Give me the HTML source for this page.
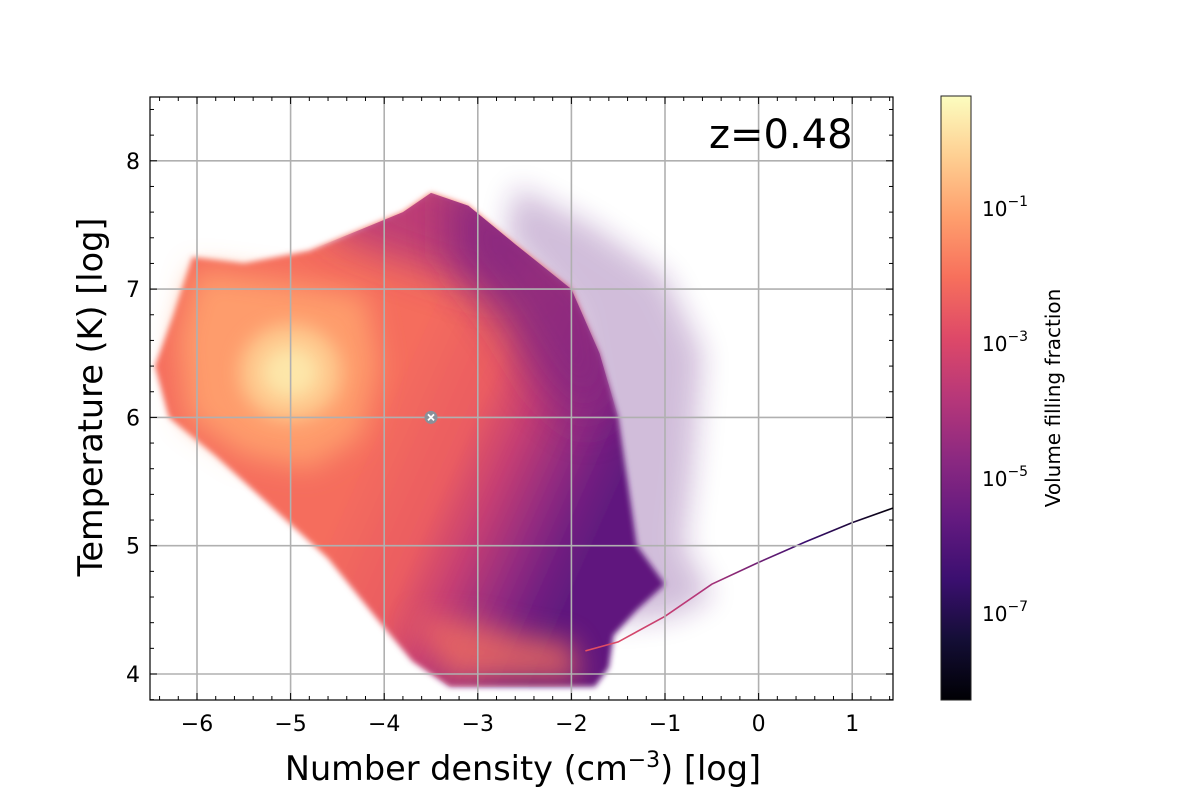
<!DOCTYPE html>
<html><head><meta charset="utf-8">
<style>
html,body{margin:0;padding:0;background:#fff;}
svg{display:block;font-family:"DejaVu Sans","Liberation Sans",sans-serif;}
</style></head>
<body>
<svg id="chart" width="1200" height="800" viewBox="0 0 1200 800">
<defs>
<filter id="blur3" x="-20%" y="-20%" width="140%" height="140%"><feGaussianBlur stdDeviation="3"/></filter>
<filter id="blur8" x="-30%" y="-30%" width="160%" height="160%"><feGaussianBlur stdDeviation="9"/></filter>
<filter id="blur14" x="-40%" y="-40%" width="180%" height="180%"><feGaussianBlur stdDeviation="14"/></filter>
<filter id="blur20" x="-50%" y="-50%" width="200%" height="200%"><feGaussianBlur stdDeviation="20"/></filter>
<clipPath id="plotclip"><rect x="150" y="97" width="743" height="603"/></clipPath>
<clipPath id="bodyclip"><polygon id="bodyclippoly" points=""/></clipPath>
<linearGradient id="cbgrad" x1="0" y1="1" x2="0" y2="0">
<stop offset="0" stop-color="#000004"/><stop offset="0.1" stop-color="#140e36"/><stop offset="0.2" stop-color="#3b0f70"/>
<stop offset="0.3" stop-color="#641a80"/><stop offset="0.4" stop-color="#8c2981"/><stop offset="0.5" stop-color="#b73779"/>
<stop offset="0.6" stop-color="#de4968"/><stop offset="0.7" stop-color="#f7705c"/><stop offset="0.8" stop-color="#fe9f6d"/>
<stop offset="0.9" stop-color="#fecf92"/><stop offset="1" stop-color="#fcfdbf"/>
</linearGradient>
<linearGradient id="tailgrad" x1="0" y1="0" x2="1" y2="0">
<stop offset="0" stop-color="#e8505f"/><stop offset="0.35" stop-color="#b73779"/><stop offset="0.7" stop-color="#3b0f70"/><stop offset="1" stop-color="#000004"/>
</linearGradient>
<linearGradient id="bodygrad" gradientUnits="userSpaceOnUse" x1="377" y1="417" x2="605" y2="519"></linearGradient>
</defs>
<g id="heat" clip-path="url(#plotclip)"></g>
<g id="grid"></g>
<g id="axes"></g>
<rect x="150" y="97" width="743" height="603" fill="none" stroke="#000" stroke-width="1.2"/>
<text x="709" y="148" font-size="40">z=0.48</text>
<text x="523" y="780" font-size="33.5" text-anchor="middle">Number density (cm<tspan dy="-13" font-size="22">−3</tspan><tspan dy="13">) [log]</tspan></text>
<text transform="translate(102,397) rotate(-90)" font-size="33.5" text-anchor="middle">Temperature (K) [log]</text>
<rect x="941" y="96" width="30" height="604" fill="url(#cbgrad)" stroke="#222" stroke-width="1"/>
<g id="cbticks"></g>
<text transform="translate(1060,398) rotate(-90)" font-size="20" text-anchor="middle">Volume filling fraction</text>
</svg>
<script>
// ---- data ----
const xTicks = [-6, -5, -4, -3, -2, -1, 0, 1];
const yTicks = [4, 5, 6, 7, 8];
const cbTicks = [-1, -3, -5, -7];
// body gradient log10 volume fraction values (low-density side -> high-density side)
const bodyValues = [-2.1, -2.5, -3.5, -4.6, -5.3, -5.7];
// overlay layer values: orange, core outer, core inner, bottom band, top cap, upper-right wedge
const layerValues = [-1.2, -0.4, 0.2, -2.0, -3.9, -4.9];
// polygons in (log n, log T)
const bodyOutline = [[-6.05,7.25],[-5.5,7.2],[-4.8,7.3],[-4.3,7.45],[-3.8,7.6],[-3.5,7.75],[-3.1,7.65],[-2.6,7.35],[-2.0,7.0],[-1.7,6.5],[-1.5,6.0],[-1.4,5.5],[-1.3,5.0],[-1.0,4.7],[-1.3,4.5],[-1.55,4.3],[-1.6,4.05],[-1.75,3.9],[-3.3,3.9],[-3.7,4.1],[-4.1,4.45],[-4.6,4.9],[-5.2,5.3],[-5.8,5.7],[-6.3,6.0],[-6.45,6.4],[-6.25,6.8]];
const topCap = [[-4.6,7.7],[-3.5,8.0],[-2.4,7.6],[-2.4,7.0],[-2.9,7.0],[-3.5,7.15],[-4.1,7.3],[-4.6,7.45]];
const upperWedge = [[-3.3,7.9],[-2.4,7.6],[-1.6,7.0],[-1.4,6.3],[-1.8,5.9],[-2.3,6.2],[-2.8,6.8],[-3.3,7.25]];
const layerOrange = [[-6.0,7.15],[-5.0,7.05],[-4.2,6.95],[-4.05,6.4],[-4.25,5.85],[-4.8,5.6],[-5.5,5.7],[-6.1,6.0],[-6.2,6.6]];
const bottomBand = [[-3.7,4.45],[-3.0,4.4],[-2.5,4.3],[-2.0,4.25],[-1.9,3.95],[-3.3,3.95]];
const coreEllipse = [-5.0, 6.35, 0.55, 0.38];
const coreInner = [-5.0, 6.35, 0.3, 0.2];
const sparseRegion = [[-2.6,7.8],[-1.8,7.5],[-1.0,7.1],[-0.6,6.5],[-0.7,5.6],[-0.8,5.0],[-0.5,4.6],[-0.9,4.45],[-1.6,4.4],[-1.7,5.5],[-2.0,6.8],[-2.7,7.4]];
const tailPoints = [[-1.85,4.18],[-1.5,4.25],[-1.0,4.45],[-0.5,4.7],[0.0,4.87],[0.5,5.03],[1.0,5.18],[1.5,5.31]];
const marker = [-3.5, 6.0];
// ---- scales ----
const X = v => 197 + (v + 6) * 93.6;
const Y = t => 674 - (t - 4) * 128.3;
const CB = l => 208 - (l + 1) * 67.5;
const cmapStops = ["#000004","#140e36","#3b0f70","#641a80","#8c2981","#b73779","#de4968","#f7705c","#fe9f6d","#fecf92","#fcfdbf"];
function hex2rgb(h){return [1,3,5].map(i=>parseInt(h.substr(i,2),16));}
function magma(l){
  let t=(l+8.29)/8.93; t=Math.max(0,Math.min(1,t));
  const f=t*10, i=Math.min(9,Math.floor(f)), r=f-i;
  const a=hex2rgb(cmapStops[i]), b=hex2rgb(cmapStops[i+1]);
  return 'rgb('+a.map((v,k)=>Math.round(v+(b[k]-v)*r)).join(',')+')';
}
const NS='http://www.w3.org/2000/svg';
function mk(tag,attrs,parent){const e=document.createElementNS(NS,tag);for(const k in attrs)e.setAttribute(k,attrs[k]);parent.appendChild(e);return e;}
const pts = arr => arr.map(p=>X(p[0]).toFixed(1)+','+Y(p[1]).toFixed(1)).join(' ');
const bg=document.getElementById('bodygrad');
const offs=[0,0.35,0.55,0.75,0.88,1];
bodyValues.forEach((v,i)=>mk('stop',{offset:offs[i],'stop-color':magma(v)},bg));
document.getElementById('bodyclippoly').setAttribute('points',pts(bodyOutline));
const heat=document.getElementById('heat');
let sp=mk('polygon',{points:pts(sparseRegion),fill:magma(-5.8),opacity:0.28,filter:'url(#blur14)'},heat);


const body=mk('polygon',{points:pts(bodyOutline),fill:'url(#bodygrad)',filter:'url(#blur3)'},heat);


const inner=mk('g',{'clip-path':'url(#bodyclip)'},heat);


const cap=mk('polygon',{points:pts(topCap),fill:magma(layerValues[4]),opacity:0.85,filter:'url(#blur20)'},inner);


const wedge=mk('polygon',{points:pts(upperWedge),fill:magma(layerValues[5]),opacity:0.85,filter:'url(#blur20)'},inner);


const band=mk('polygon',{points:pts(bottomBand),fill:magma(layerValues[3]),opacity:0.75,filter:'url(#blur14)'},inner);


const orange=mk('polygon',{points:pts(layerOrange),fill:magma(layerValues[0]),filter:'url(#blur14)'},heat);


const core=mk('ellipse',{cx:X(coreEllipse[0]),cy:Y(coreEllipse[1]),rx:coreEllipse[2]*93.6,ry:coreEllipse[3]*128.3,fill:magma(layerValues[1]),filter:'url(#blur8)'},heat);


const core2=mk('ellipse',{cx:X(coreInner[0]),cy:Y(coreInner[1]),rx:coreInner[2]*93.6,ry:coreInner[3]*128.3,fill:magma(layerValues[2]),filter:'url(#blur8)'},heat);


const tail=mk('polyline',{points:pts(tailPoints),fill:'none',stroke:'url(#tailgrad)','stroke-width':1.6},heat);


// grid
const grid=document.getElementById('grid');
xTicks.forEach(v=>{const e=mk('line',{x1:X(v),x2:X(v),y1:97,y2:700,stroke:'#b0b0b0','stroke-width':1.6},grid);
  });
yTicks.forEach(v=>{const e=mk('line',{x1:150,x2:893,y1:Y(v),y2:Y(v),stroke:'#b0b0b0','stroke-width':1.6},grid);
  });
const mg=mk('g',{},grid);


mk('circle',{cx:X(marker[0]),cy:Y(marker[1]),r:6.5,fill:'#8a9099'},mg);
mk('path',{d:`M${X(marker[0])-3},${Y(marker[1])-3}L${X(marker[0])+3},${Y(marker[1])+3}M${X(marker[0])+3},${Y(marker[1])-3}L${X(marker[0])-3},${Y(marker[1])+3}`,stroke:'#fff','stroke-width':1.8},mg);
// ticks
const axes=document.getElementById('axes');
for(let v=-6.4;v<=1.5;v+=0.2){const x=X(v);const maj=Math.abs(v-Math.round(v))<1e-6;const L=maj?7:4;
  mk('line',{x1:x,x2:x,y1:700,y2:700-L,stroke:'#000','stroke-width':1},axes);
  mk('line',{x1:x,x2:x,y1:97,y2:97+L,stroke:'#000','stroke-width':1},axes);}
for(let t=3.8;t<=8.5;t+=0.2){const y=Y(t);const maj=Math.abs(t-Math.round(t))<1e-6;const L=maj?7:4;
  mk('line',{x1:150,x2:150+L,y1:y,y2:y,stroke:'#000','stroke-width':1},axes);
  mk('line',{x1:893,x2:893-L,y1:y,y2:y,stroke:'#000','stroke-width':1},axes);}
xTicks.forEach(v=>{const e=mk('text',{x:X(v),y:731,'font-size':22,'text-anchor':'middle'},axes);e.textContent=(v<0?'−':'')+Math.abs(v);
  });
yTicks.forEach(v=>{const e=mk('text',{x:140,y:Y(v)+8,'font-size':22,'text-anchor':'end'},axes);e.textContent=v;
  });
const cbt=document.getElementById('cbticks');
cbTicks.forEach(l=>{const e=mk('text',{x:982,y:CB(l)+8,'font-size':20},cbt);
  e.textContent='10';const s=mk('tspan',{dy:-10,'font-size':14},e);s.textContent='−'+Math.abs(l);
  });
</script>
</body></html>
